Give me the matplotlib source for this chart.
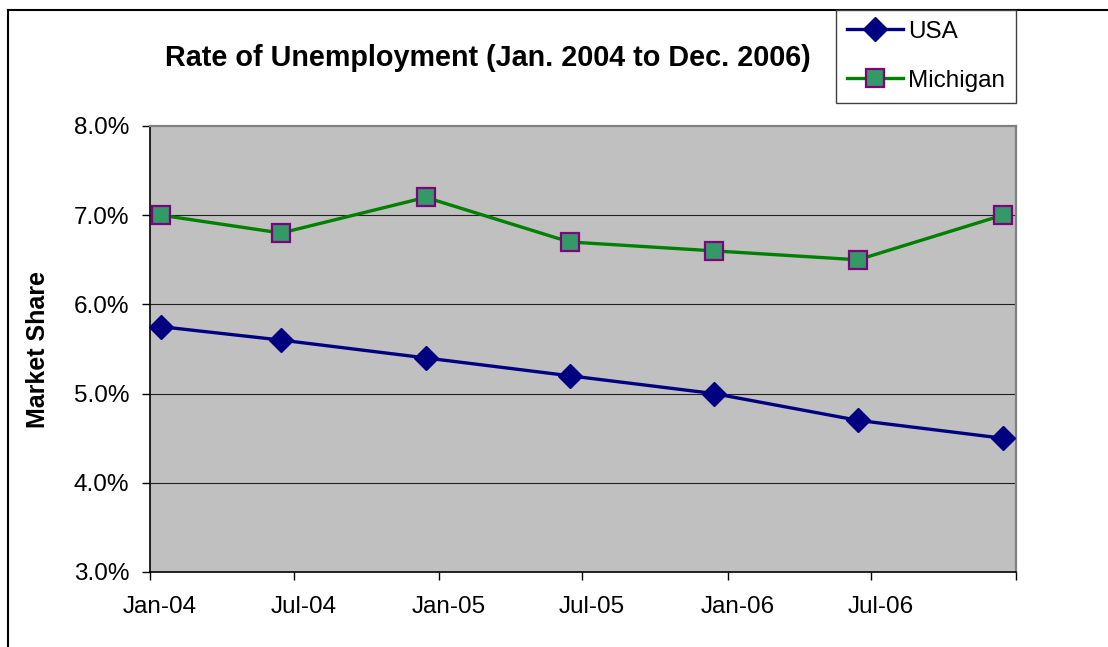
import matplotlib
matplotlib.use("Agg")
import matplotlib.pyplot as plt
import matplotlib.transforms as mtransforms
from matplotlib.lines import Line2D
import datetime as dt

plt.rcParams['font.family'] = ['Liberation Sans', 'DejaVu Sans']

# Survey dates (mid-month readings)
dates = ["2004-01-15", "2004-06-15", "2004-12-15", "2005-06-15",
         "2005-12-15", "2006-06-15", "2006-12-15"]
usa = [5.75, 5.6, 5.4, 5.2, 5.0, 4.7, 4.5]
michigan = [7.0, 6.8, 7.2, 6.7, 6.6, 6.5, 7.0]

tick_dates = ["2004-01-01", "2004-07-01", "2005-01-01", "2005-07-01",
              "2006-01-01", "2006-07-01", "2007-01-01"]
tick_labels = ["Jan-04", "Jul-04", "Jan-05", "Jul-05", "Jan-06", "Jul-06", ""]
y_ticks = [3.0, 4.0, 5.0, 6.0, 7.0, 8.0]

title = "Rate of Unemployment (Jan. 2004 to Dec. 2006)"
y_label = "Market Share"

x = [dt.datetime.strptime(d, "%Y-%m-%d") for d in dates]
xt = [dt.datetime.strptime(d, "%Y-%m-%d") for d in tick_dates]

W, H = 1108, 647
fig = plt.figure(figsize=(W / 100, H / 100), dpi=100)
fig.patch.set_facecolor("white")

ax = fig.add_axes([150 / W, 1 - 572 / H, (1016 - 150) / W, (572 - 126) / H])
ax.set_facecolor("#C0C0C0")

# Horizontal gridlines
for v in y_ticks[1:-1]:
    ax.axhline(v, color="#202020", lw=0.8, zorder=1)

ax.plot(x, usa, color="#000080", lw=2.4, marker="D", markersize=12.5,
        markerfacecolor="#000080", markeredgecolor="#000080", label="USA",
        zorder=3, clip_on=False)
ax.plot(x, michigan, color="#008000", lw=2.4, marker="s", markersize=13.5,
        markerfacecolor="#339966", markeredgecolor="#800080",
        markeredgewidth=1.6, label="Michigan", zorder=3, clip_on=False)

ax.set_xlim(xt[0], xt[-1])
ax.set_ylim(3.0, 8.0)
ax.set_yticks(y_ticks)
ax.set_yticklabels([f"{v:.1f}%" for v in y_ticks])
ax.set_xticks(xt)
ax.set_xticklabels(tick_labels)

ax.tick_params(axis="both", direction="out", length=6, width=1,
               color="black", labelsize=17.5, labelcolor="black")
ax.tick_params(axis="y", pad=9)
ax.tick_params(axis="x", pad=11)

# Shift date labels slightly right of their ticks
offset = mtransforms.ScaledTranslation(10 / 100, 0, fig.dpi_scale_trans)
for lbl in ax.get_xticklabels():
    lbl.set_transform(lbl.get_transform() + offset)

for side in ("left", "bottom"):
    ax.spines[side].set_color("black")
    ax.spines[side].set_linewidth(1.2)
for side in ("top", "right"):
    ax.spines[side].set_color("#808080")
    ax.spines[side].set_linewidth(1.6)

ax.set_ylabel(y_label, fontsize=18, fontweight="bold")
ax.yaxis.set_label_coords(-(150 - 50) / 866, 0.5)

fig.text(488 / W, 1 - 58 / H, title, fontsize=20.7, fontweight="bold",
         ha="center", va="center")

# Chart area border (top and left edges)
fig.add_artist(Line2D([8 / W, 1.0], [1 - 10 / H, 1 - 10 / H],
                      transform=fig.transFigure, color="black", lw=1.5))
fig.add_artist(Line2D([8 / W, 8 / W], [0.0, 1 - 10 / H],
                      transform=fig.transFigure, color="black", lw=1.5))

leg = fig.legend(loc="upper left", bbox_to_anchor=(836 / W, 1 - 10 / H),
                 bbox_transform=fig.transFigure, fontsize=17.5,
                 frameon=True, fancybox=False, borderaxespad=0,
                 handlelength=2.3, handletextpad=0.22, borderpad=0.45,
                 labelspacing=1.1, edgecolor="#404040", framealpha=1)
leg.get_frame().set_linewidth(1.0)
leg.set_zorder(10)

fig.savefig("out.png", dpi=100, facecolor="white")
